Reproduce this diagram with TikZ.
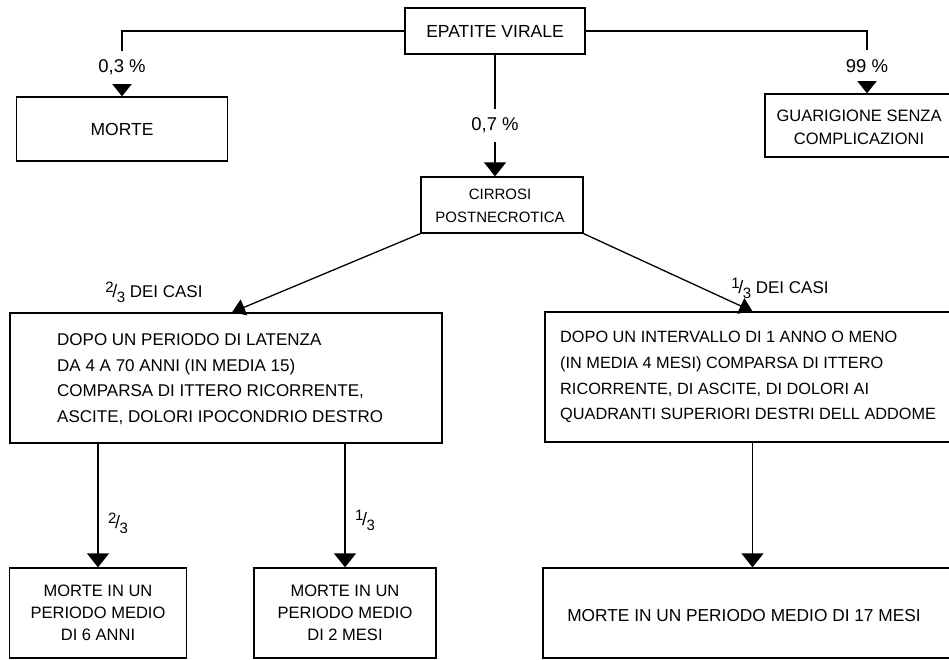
\documentclass[tikz,border=0pt]{standalone}
\usepackage{fontspec}
\setmainfont{Liberation Sans}
\usetikzlibrary{arrows.meta}
\newcommand\myfr[2]{\raisebox{0.6ex}{\fontsize{15}{15}\selectfont#1}\kern-1.5pt{\fontsize{18}{18}\selectfont/}\kern-0.5pt\raisebox{-0.5ex}{\fontsize{15}{15}\selectfont#2}}
\begin{document}
\begin{tikzpicture}[x=1pt,y=-1pt,
  boxframe/.style={draw, line width=1.3pt, inner sep=0pt},
  txt/.style={inner sep=0pt, font=\fontsize{17}{25.7}\selectfont},
  arr/.style={line width=1.3pt, -{Triangle[width=22pt,length=14pt]}},
  darr/.style={line width=1.3pt, -{Triangle[width=17pt,length=13pt]}},
  lbl/.style={fill=white, inner xsep=2pt, inner ysep=9pt, font=\fontsize{18.5}{20}\selectfont},
  flbl/.style={inner sep=1pt, font=\fontsize{17}{18}\selectfont}]
\useasboundingbox (0,0) rectangle (949,660);
% boxes
\node[boxframe, minimum width=180, minimum height=46, align=center, font=\fontsize{17.5}{20}\selectfont] (epat) at (495,31) {EPATITE VIRALE};
\node[boxframe, minimum width=211, minimum height=64, font=\fontsize{17.5}{20}\selectfont] (morte) at (122,129) {MORTE};
\node[boxframe, minimum width=204, minimum height=63] (guar) at (867,125.5) {};
\node[txt, align=center, font=\fontsize{16.5}{23}\selectfont] (guart) at (859,127) {GUARIGIONE SENZA\\COMPLICAZIONI};
\node[boxframe, minimum width=162, minimum height=56] (cirr) at (502,205) {};
\node[txt, align=center, font=\fontsize{15}{23}\selectfont] (cirrt) at (500,206) {CIRROSI\\POSTNECROTICA};
\node[boxframe, minimum width=432, minimum height=130] (lat) at (226,378) {};
\node[txt, align=left, anchor=west] (latt) at (57,379) {DOPO UN PERIODO DI LATENZA\\DA 4 A 70 ANNI (IN MEDIA 15)\\COMPARSA DI ITTERO RICORRENTE,\\ASCITE, DOLORI IPOCONDRIO DESTRO};
\node[boxframe, minimum width=415, minimum height=130] (rb) at (752.5,377) {};
\node[txt, align=left, anchor=west, font=\fontsize{16.3}{25.7}\selectfont] (rbt) at (560,377) {DOPO UN INTERVALLO DI 1 ANNO O MENO\\(IN MEDIA 4 MESI) COMPARSA DI ITTERO\\RICORRENTE, DI ASCITE, DI DOLORI AI\\QUADRANTI SUPERIORI DESTRI DELL ADDOME};
\node[boxframe, minimum width=177, minimum height=90, align=center, font=\fontsize{16.5}{22}\selectfont] (b1) at (98,613) {MORTE IN UN\\PERIODO MEDIO\\DI 6 ANNI};
\node[boxframe, minimum width=182, minimum height=90, align=center, font=\fontsize{16.5}{22}\selectfont] (b2) at (345,613) {MORTE IN UN\\PERIODO MEDIO\\DI 2 MESI};
\node[boxframe, minimum width=417, minimum height=90] (b3) at (751.5,613) {};
\node[txt, font=\fontsize{17.3}{22}\selectfont] (b3t) at (744,616) {MORTE IN UN PERIODO MEDIO DI 17 MESI};
% connectors
\draw[arr] (epat.west) -| node[lbl, pos=0.78] {0,3 \%} (morte.north);
\draw[arr] (epat.east) -| node[lbl, pos=0.78] {99 \%} (guar.north);
\draw[arr] (epat.south) -- node[lbl, pos=0.58] {0,7 \%} (epat.south |- cirr.north);
\coordinate (ltip) at ([xshift=6pt]lat.north);
\draw[darr] (cirr.south west) -- (ltip);
\draw[darr] (cirr.south east) -- (rb.north);
\node[flbl] (l23) at (154,292) {\myfr{2}{3} DEI CASI};
\node[flbl] (l13) at (780,288) {\myfr{1}{3} DEI CASI};
\draw[arr] (lat.south -| b1.north) -- (b1.north);
\draw[arr] (lat.south -| b2.north) -- (b2.north);
\draw[arr] (rb.south) -- (rb.south |- b3.north);
\node[flbl] (f23) at (118,523) {\myfr{2}{3}};
\node[flbl] (f13) at (365,520) {\myfr{1}{3}};
\end{tikzpicture}
\end{document}
